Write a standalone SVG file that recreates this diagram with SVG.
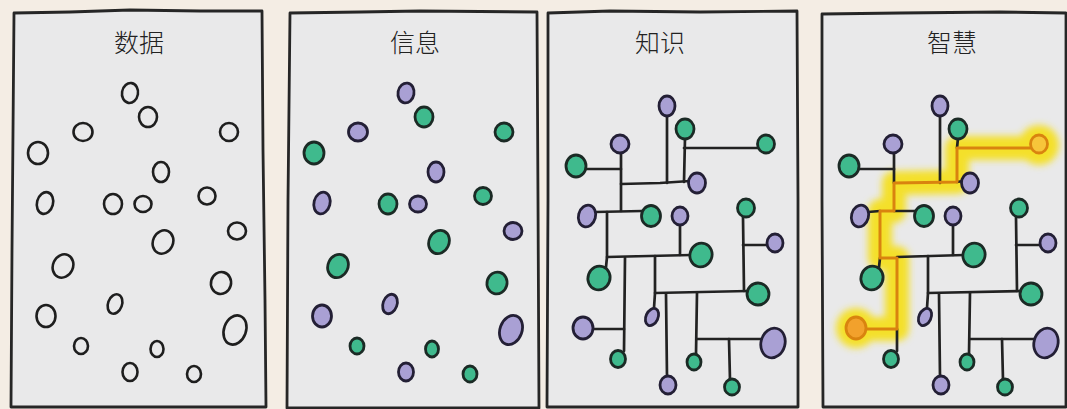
<svg xmlns="http://www.w3.org/2000/svg" width="1067" height="409" viewBox="0 0 1067 409">
  <defs>
    <style>
      .bg { fill: #f4ede4; }
      .panel { fill: #e9e9ea; stroke: #262626; stroke-width: 2.8; stroke-linejoin: round; }
      .title { font-family: "Noto Sans CJK SC", "Noto Sans", sans-serif; font-size: 25px; font-weight: 300; fill: #222; text-anchor: middle; }
      .o { fill: none; stroke: #1e1e1e; stroke-width: 2.6; }
      .g { fill: #3fba8d; stroke: #1b2a25; stroke-width: 2.8; }
      .p { fill: #a9a0d4; stroke: #231f35; stroke-width: 2.8; }
      .ln { fill: none; stroke: #222; stroke-width: 2.7; stroke-linecap: round; stroke-linejoin: round; }
      .hl { fill: none; stroke: #d9830f; stroke-width: 3; stroke-linecap: round; stroke-linejoin: round; }
      .glow { fill: none; stroke: #f4e02a; stroke-width: 24; stroke-linecap: round; stroke-linejoin: round; }
    </style>
    <filter id="soft" x="-20%" y="-20%" width="140%" height="140%">
      <feGaussianBlur stdDeviation="3.5"/>
    </filter>
  </defs>

  <rect class="bg" x="0" y="0" width="1067" height="409"/>

  <!-- panel frames -->
  <g id="frames">
    <path class="panel" d="M14,13 L70,12 L130,10 L200,11 L262,11 L263,150 L265,300 L266,407 L140,407 L11,407 L12,250 Z"/>
    <path class="panel" d="M290,13 L360,12 L420,11 L537,12 L538,200 L539,408 L287,408 L288,200 Z"/>
    <path class="panel" d="M548,13 L610,11 L700,12 L797,11 L798,200 L798,407 L547,407 L548,200 Z"/>
    <path class="panel" d="M822,14 L900,13 L1000,12 L1066,13 L1066,407 L823,407 L822,200 Z"/>
  </g>

  <!-- titles -->
  <g id="titles">
    <text class="title" x="139" y="52">数据</text>
    <text class="title" x="415" y="52">信息</text>
    <text class="title" x="660" y="52">知识</text>
    <text class="title" x="952" y="52">智慧</text>
  </g>

  <!-- panel 1: raw data points -->
  <g id="data">
    <g id="d1"><ellipse class="o" cx="130" cy="93" rx="8" ry="10" transform="rotate(10 130 93)"/></g>
    <g id="d2"><ellipse class="o" cx="148" cy="117" rx="9" ry="10"/></g>
    <g id="d3"><ellipse class="o" cx="83" cy="132" rx="9.5" ry="9"/></g>
    <g id="d4"><ellipse class="o" cx="229" cy="132" rx="9" ry="9"/></g>
    <g id="d5"><ellipse class="o" cx="38" cy="153" rx="10" ry="11"/></g>
    <g id="d6"><ellipse class="o" cx="161" cy="172" rx="8" ry="10"/></g>
    <g id="d7"><ellipse class="o" cx="45" cy="203" rx="8" ry="11" transform="rotate(15 45 203)"/></g>
    <g id="d8"><ellipse class="o" cx="113" cy="204" rx="9" ry="10"/></g>
    <g id="d9"><ellipse class="o" cx="143" cy="204" rx="8.5" ry="8"/></g>
    <g id="d10"><ellipse class="o" cx="207" cy="196" rx="8.5" ry="8.5"/></g>
    <g id="d11"><ellipse class="o" cx="237" cy="231" rx="9" ry="8.5"/></g>
    <g id="d12"><ellipse class="o" cx="163" cy="242" rx="10" ry="12" transform="rotate(25 163 242)"/></g>
    <g id="d13"><ellipse class="o" cx="63" cy="266" rx="10" ry="12" transform="rotate(25 63 266)"/></g>
    <g id="d14"><ellipse class="o" cx="221" cy="283" rx="10" ry="11" transform="rotate(15 221 283)"/></g>
    <g id="d15"><ellipse class="o" cx="115" cy="304" rx="7" ry="10" transform="rotate(20 115 304)"/></g>
    <g id="d16"><ellipse class="o" cx="46" cy="316" rx="9.5" ry="11"/></g>
    <g id="d17"><ellipse class="o" cx="235" cy="330" rx="11" ry="15" transform="rotate(20 235 330)"/></g>
    <g id="d18"><ellipse class="o" cx="81" cy="346" rx="7" ry="8"/></g>
    <g id="d19"><ellipse class="o" cx="157" cy="349" rx="6.5" ry="8"/></g>
    <g id="d20"><ellipse class="o" cx="130" cy="372" rx="7.5" ry="9"/></g>
    <g id="d21"><ellipse class="o" cx="194" cy="374" rx="7" ry="8"/></g>
  </g>

  <!-- panel 2: classified points -->
  <g id="info">
    <g id="i1"><ellipse class="p" cx="406" cy="93" rx="8" ry="10" transform="rotate(10 406 93)"/></g>
    <g id="i2"><ellipse class="g" cx="424" cy="117" rx="9" ry="10"/></g>
    <g id="i3"><ellipse class="p" cx="358" cy="132" rx="9.5" ry="9"/></g>
    <g id="i4"><ellipse class="g" cx="504" cy="132" rx="9" ry="9"/></g>
    <g id="i5"><ellipse class="g" cx="314" cy="153" rx="10" ry="11"/></g>
    <g id="i6"><ellipse class="p" cx="436" cy="172" rx="8" ry="10"/></g>
    <g id="i7"><ellipse class="p" cx="322" cy="203" rx="8" ry="11" transform="rotate(15 322 203)"/></g>
    <g id="i8"><ellipse class="g" cx="388" cy="204" rx="9" ry="10"/></g>
    <g id="i9"><ellipse class="p" cx="418" cy="204" rx="8.5" ry="8"/></g>
    <g id="i10"><ellipse class="g" cx="483" cy="196" rx="8.5" ry="8.5"/></g>
    <g id="i11"><ellipse class="p" cx="513" cy="231" rx="9" ry="8.5"/></g>
    <g id="i12"><ellipse class="g" cx="439" cy="242" rx="10" ry="12" transform="rotate(25 439 242)"/></g>
    <g id="i13"><ellipse class="g" cx="338" cy="266" rx="10" ry="12" transform="rotate(25 338 266)"/></g>
    <g id="i14"><ellipse class="g" cx="497" cy="283" rx="10" ry="11" transform="rotate(15 497 283)"/></g>
    <g id="i15"><ellipse class="p" cx="390" cy="304" rx="7" ry="10" transform="rotate(20 390 304)"/></g>
    <g id="i16"><ellipse class="p" cx="322" cy="316" rx="9.5" ry="11"/></g>
    <g id="i17"><ellipse class="p" cx="511" cy="330" rx="11" ry="15" transform="rotate(20 511 330)"/></g>
    <g id="i18"><ellipse class="g" cx="357" cy="346" rx="7" ry="8"/></g>
    <g id="i19"><ellipse class="g" cx="432" cy="349" rx="6.5" ry="8"/></g>
    <g id="i20"><ellipse class="p" cx="406" cy="372" rx="7.5" ry="9"/></g>
    <g id="i21"><ellipse class="g" cx="470" cy="374" rx="7" ry="8"/></g>
  </g>

  <!-- panel 3: connected knowledge network -->
  <g id="knowledge-links">
    <path class="ln" d="M667,114 L667,183"/>
    <path class="ln" d="M685,138 L684,182"/>
    <path class="ln" d="M684,148 L758,148"/>
    <path class="ln" d="M621,152 L621,211"/>
    <path class="ln" d="M586,169 L621,169"/>
    <path class="ln" d="M621,184 L660,183 L690,181"/>
    <path class="ln" d="M595,212 L642,211"/>
    <path class="ln" d="M607,212 L607,257 L606,267"/>
    <path class="ln" d="M680,225 L680,255"/>
    <path class="ln" d="M607,257 L691,255"/>
    <path class="ln" d="M625,258 L624,351"/>
    <path class="ln" d="M593,329 L624,329"/>
    <path class="ln" d="M655,256 L655,293 L654,308"/>
    <path class="ln" d="M655,293 L748,291"/>
    <path class="ln" d="M743,217 L744,291"/>
    <path class="ln" d="M743,245 L767,245"/>
    <path class="ln" d="M666,294 L667,377"/>
    <path class="ln" d="M697,293 L696,354"/>
    <path class="ln" d="M697,339 L761,339"/>
    <path class="ln" d="M729,339 L730,380"/>
  </g>
  <g id="knowledge">
    <g id="k1"><ellipse class="p" cx="667" cy="106" rx="8" ry="10"/></g>
    <g id="k2"><ellipse class="g" cx="685" cy="129" rx="9" ry="10"/></g>
    <g id="k3"><ellipse class="g" cx="766" cy="144" rx="8.5" ry="9"/></g>
    <g id="k4"><ellipse class="p" cx="620" cy="144" rx="9" ry="9"/></g>
    <g id="k5"><ellipse class="g" cx="576" cy="166" rx="10" ry="11"/></g>
    <g id="k6"><ellipse class="p" cx="697" cy="183" rx="8.5" ry="10"/></g>
    <g id="k7"><ellipse class="p" cx="587" cy="216" rx="8.5" ry="11" transform="rotate(15 587 216)"/></g>
    <g id="k8"><ellipse class="g" cx="651" cy="216" rx="9.5" ry="10.5"/></g>
    <g id="k9"><ellipse class="p" cx="680" cy="216" rx="8" ry="9"/></g>
    <g id="k10"><ellipse class="g" cx="746" cy="208" rx="8.5" ry="9"/></g>
    <g id="k11"><ellipse class="p" cx="775" cy="243" rx="8" ry="9"/></g>
    <g id="k12"><ellipse class="g" cx="701" cy="255" rx="11" ry="12" transform="rotate(20 701 255)"/></g>
    <g id="k13"><ellipse class="g" cx="599" cy="278" rx="11" ry="12" transform="rotate(20 599 278)"/></g>
    <g id="k14"><ellipse class="g" cx="758" cy="294" rx="11" ry="11"/></g>
    <g id="k15"><ellipse class="p" cx="652" cy="317" rx="6" ry="9" transform="rotate(25 652 317)"/></g>
    <g id="k16"><ellipse class="p" cx="583" cy="328" rx="10" ry="11"/></g>
    <g id="k17"><ellipse class="p" cx="773" cy="343" rx="12" ry="15" transform="rotate(15 773 343)"/></g>
    <g id="k18"><ellipse class="g" cx="618" cy="359" rx="7.5" ry="8.5"/></g>
    <g id="k19"><ellipse class="g" cx="694" cy="362" rx="7" ry="8"/></g>
    <g id="k20"><ellipse class="p" cx="668" cy="385" rx="8" ry="9"/></g>
    <g id="k21"><ellipse class="g" cx="732" cy="387" rx="7.5" ry="8"/></g>
  </g>

  <!-- panel 4: the same network with a highlighted route -->
  <g id="wisdom-glow" filter="url(#soft)">
    <path class="glow" d="M856,329 L897,329 L897,258 L880,258 L880,211 L894,211 L894,183 L957,182 L957,148 L1039,148"/>
    <circle cx="856" cy="328" r="20" fill="#f4e02a"/>
    <circle cx="1039" cy="145" r="20" fill="#f4e02a"/>
  </g>
  <g id="wisdom-links">
    <path class="ln" d="M940,114 L940,183"/>
    <path class="ln" d="M958,138 L957,148"/>
    <path class="ln" d="M894,152 L894,183"/>
    <path class="ln" d="M859,169 L894,169"/>
    <path class="ln" d="M957,182 L963,181"/>
    <path class="ln" d="M868,212 L880,211"/>
    <path class="ln" d="M894,211 L915,211"/>
    <path class="ln" d="M880,258 L879,267"/>
    <path class="ln" d="M953,225 L953,255"/>
    <path class="ln" d="M897,257 L964,255"/>
    <path class="ln" d="M897,329 L897,351"/>
    <path class="ln" d="M928,256 L928,293 L927,308"/>
    <path class="ln" d="M928,293 L1021,291"/>
    <path class="ln" d="M1016,217 L1017,291"/>
    <path class="ln" d="M1016,245 L1040,245"/>
    <path class="ln" d="M939,294 L940,377"/>
    <path class="ln" d="M970,293 L969,354"/>
    <path class="ln" d="M970,339 L1034,339"/>
    <path class="ln" d="M1002,339 L1003,380"/>
  </g>
  <g id="wisdom-route">
    <path class="hl" d="M856,329 L897,329 L897,258 L880,258 L880,211 L894,211 L894,183 L957,182 L957,148 L1039,148"/>
  </g>
  <g id="wisdom">
    <g id="w1"><ellipse class="p" cx="940" cy="106" rx="8" ry="10"/></g>
    <g id="w2"><ellipse class="g" cx="958" cy="129" rx="9" ry="10"/></g>
    <g id="w3"><ellipse cx="1039" cy="144" rx="8.5" ry="9" fill="#f7c53a" stroke="#d9830f" stroke-width="2.8"/></g>
    <g id="w4"><ellipse class="p" cx="893" cy="144" rx="9" ry="9"/></g>
    <g id="w5"><ellipse class="g" cx="849" cy="166" rx="10" ry="11"/></g>
    <g id="w6"><ellipse class="p" cx="970" cy="183" rx="8.5" ry="10"/></g>
    <g id="w7"><ellipse class="p" cx="860" cy="216" rx="8.5" ry="11" transform="rotate(15 860 216)"/></g>
    <g id="w8"><ellipse class="g" cx="924" cy="216" rx="9.5" ry="10.5"/></g>
    <g id="w9"><ellipse class="p" cx="953" cy="216" rx="8" ry="9"/></g>
    <g id="w10"><ellipse class="g" cx="1019" cy="208" rx="8.5" ry="9"/></g>
    <g id="w11"><ellipse class="p" cx="1048" cy="243" rx="8" ry="9"/></g>
    <g id="w12"><ellipse class="g" cx="974" cy="255" rx="11" ry="12" transform="rotate(20 974 255)"/></g>
    <g id="w13"><ellipse class="g" cx="872" cy="278" rx="11" ry="12" transform="rotate(20 872 278)"/></g>
    <g id="w14"><ellipse class="g" cx="1031" cy="294" rx="11" ry="11"/></g>
    <g id="w15"><ellipse class="p" cx="925" cy="317" rx="6" ry="9" transform="rotate(25 925 317)"/></g>
    <g id="w16"><ellipse cx="856" cy="328" rx="10" ry="11" fill="#f2a12c" stroke="#d9830f" stroke-width="2.8"/></g>
    <g id="w17"><ellipse class="p" cx="1046" cy="343" rx="12" ry="15" transform="rotate(15 1046 343)"/></g>
    <g id="w18"><ellipse class="g" cx="891" cy="359" rx="7.5" ry="8.5"/></g>
    <g id="w19"><ellipse class="g" cx="967" cy="362" rx="7" ry="8"/></g>
    <g id="w20"><ellipse class="p" cx="941" cy="385" rx="8" ry="9"/></g>
    <g id="w21"><ellipse class="g" cx="1005" cy="387" rx="7.5" ry="8"/></g>
  </g>
</svg>
